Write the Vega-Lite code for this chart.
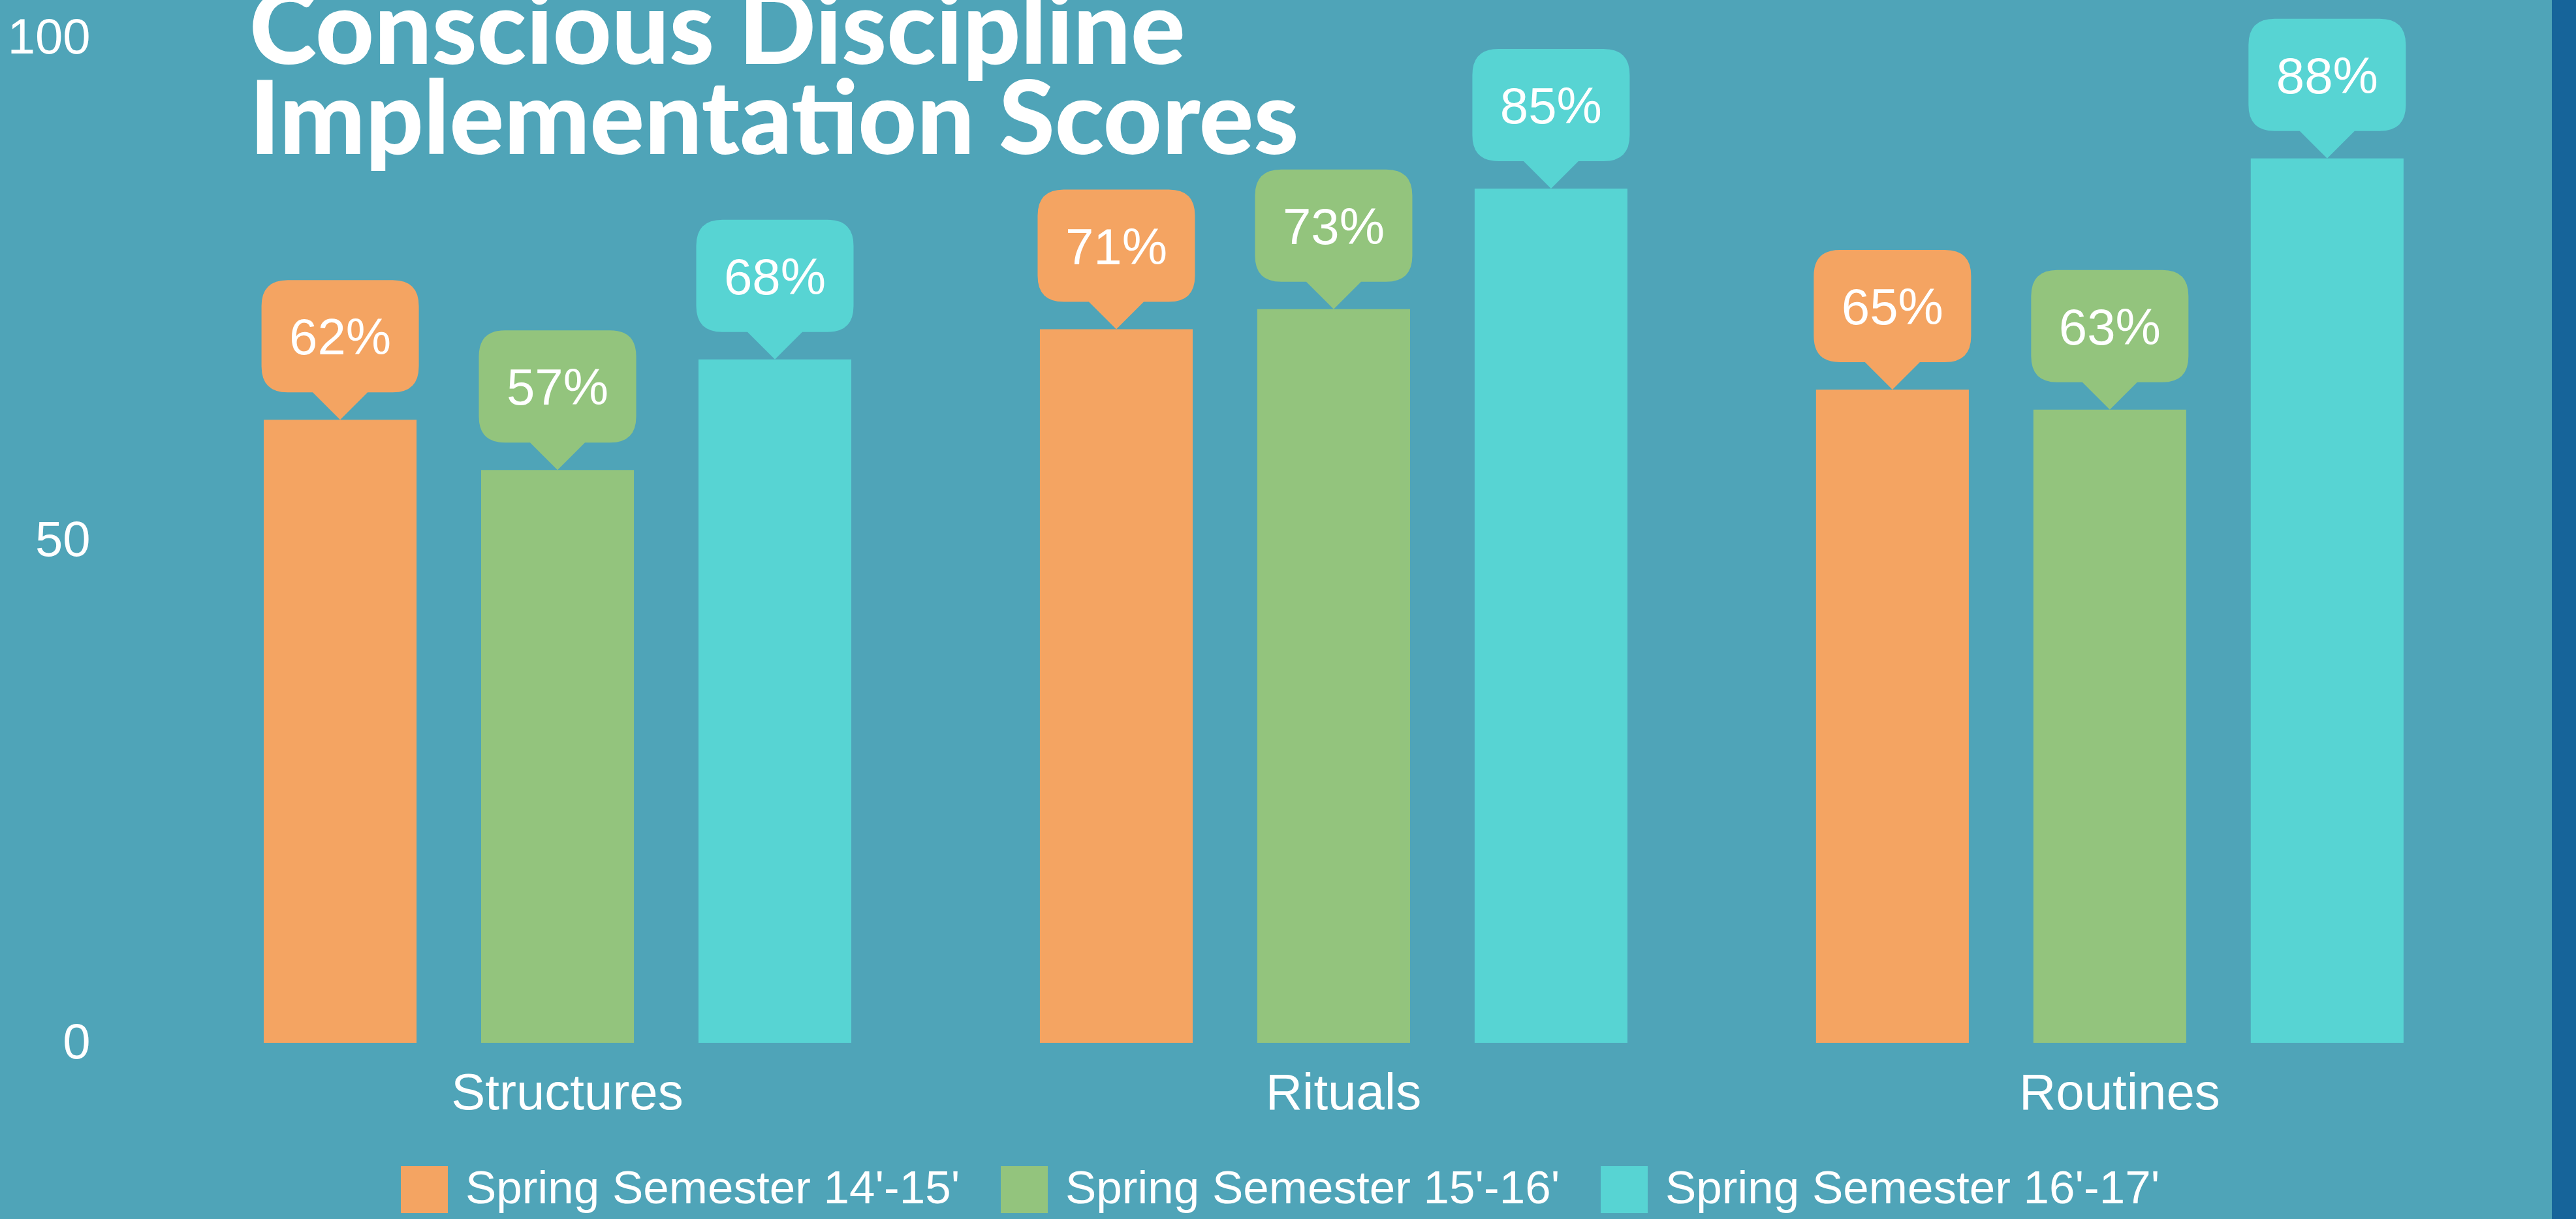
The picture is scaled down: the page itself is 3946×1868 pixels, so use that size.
{
  "$schema": "https://vega.github.io/schema/vega-lite/v6.json",
  "width": 3751,
  "height": 1540,
  "autosize": {"type": "none"},
  "padding": {"left": 184, "top": 58, "right": 11, "bottom": 270},
  "background": "#4FA4B8",
  "config": {"view": {"stroke": null}, "font": "Liberation Sans"},
  "title": {
    "text": ["Conscious Discipline", "Implementation Scores"],
    "anchor": "start",
    "frame": "group",
    "font": "Lato",
    "fontWeight": 900,
    "fontSize": 156,
    "lineHeight": 138,
    "color": "#FFFFFF",
    "baseline": "alphabetic",
    "offset": -392,
    "dx": 198,
    "limit": 0
  },
  "resolve": {"scale": {"x": "independent", "y": "independent"}},
  "layer": [
    {
      "data": {"values": [{"part": "edge"}]},
      "mark": {"type": "rect", "color": "#16649A"},
      "encoding": {
        "x": {"datum": 0.99307, "type": "quantitative", "scale": {"domain": [0, 1], "nice": false, "zero": false}, "axis": null},
        "x2": {"datum": 1.00293},
        "y": {"datum": 1.03766, "type": "quantitative", "scale": {"domain": [0, 1], "nice": false, "zero": false}, "axis": null},
        "y2": {"datum": -0.17532}
      }
    },
    {
      "data": {
        "values": [
          {"category": "Structures", "semester": "Spring Semester 14'-15'", "score": 62, "label": "62%"},
          {"category": "Structures", "semester": "Spring Semester 15'-16'", "score": 57, "label": "57%"},
          {"category": "Structures", "semester": "Spring Semester 16'-17'", "score": 68, "label": "68%"},
          {"category": "Rituals", "semester": "Spring Semester 14'-15'", "score": 71, "label": "71%"},
          {"category": "Rituals", "semester": "Spring Semester 15'-16'", "score": 73, "label": "73%"},
          {"category": "Rituals", "semester": "Spring Semester 16'-17'", "score": 85, "label": "85%"},
          {"category": "Routines", "semester": "Spring Semester 14'-15'", "score": 65, "label": "65%"},
          {"category": "Routines", "semester": "Spring Semester 15'-16'", "score": 63, "label": "63%"},
          {"category": "Routines", "semester": "Spring Semester 16'-17'", "score": 88, "label": "88%"}
        ]
      },
      "encoding": {
        "x": {
          "field": "category",
          "type": "nominal",
          "sort": ["Structures", "Rituals", "Routines"],
          "scale": {"paddingInner": 0.243, "paddingOuter": 0.199, "align": 0.465},
          "axis": {
            "title": null,
            "labelAngle": 0,
            "labelFontSize": 78,
            "labelColor": "#FFFFFF",
            "labelFont": "Liberation Sans",
            "labelPadding": 39,
            "labelOffset": 15,
            "labelLimit": 0,
            "ticks": false,
            "tickSize": 0,
            "domain": false,
            "grid": false
          }
        },
        "xOffset": {
          "field": "semester",
          "type": "nominal",
          "sort": ["Spring Semester 14'-15'", "Spring Semester 15'-16'", "Spring Semester 16'-17'"],
          "scale": {"paddingInner": 0.297, "paddingOuter": 0}
        },
        "y": {
          "field": "score",
          "type": "quantitative",
          "scale": {"domain": [0, 100], "nice": false},
          "axis": {
            "title": null,
            "values": [0, 50, 100],
            "labelFontSize": 76,
            "labelColor": "#FFFFFF",
            "labelFont": "Liberation Sans",
            "labelPadding": 46,
            "ticks": false,
            "tickSize": 0,
            "domain": false,
            "grid": false
          }
        }
      },
      "layer": [
        {
          "mark": {"type": "bar"},
          "encoding": {
            "color": {
              "field": "semester",
              "type": "nominal",
              "sort": ["Spring Semester 14'-15'", "Spring Semester 15'-16'", "Spring Semester 16'-17'"],
              "scale": {"range": ["#F4A462", "#93C47D", "#57D4D3"]},
              "legend": {
                "orient": "none",
                "legendX": 430,
                "legendY": 1729,
                "direction": "horizontal",
                "title": null,
                "symbolType": "square",
                "symbolSize": 5184,
                "symbolStrokeWidth": 0,
                "symbolOpacity": 1,
                "labelFontSize": 71,
                "labelColor": "#FFFFFF",
                "labelFont": "Liberation Sans",
                "labelOffset": 27,
                "labelLimit": 0,
                "columnPadding": 62,
                "padding": 0
              }
            }
          }
        },
        {
          "mark": {
            "type": "point",
            "shape": "M0,0 L-0.349,-0.349 L-0.668,-0.349 Q-1,-0.349 -1,-0.681 L-1,-1.444 Q-1,-1.776 -0.668,-1.776 L0.668,-1.776 Q1,-1.776 1,-1.444 L1,-0.681 Q1,-0.349 0.668,-0.349 L0.349,-0.349 Z",
            "size": 58081,
            "filled": true,
            "opacity": 1,
            "strokeWidth": 0
          },
          "encoding": {
            "color": {"field": "semester", "type": "nominal", "sort": ["Spring Semester 14'-15'", "Spring Semester 15'-16'", "Spring Semester 16'-17'"]}
          }
        },
        {
          "mark": {"type": "text", "dy": -100, "baseline": "alphabetic", "align": "center", "fontSize": 78, "font": "Liberation Sans", "color": "#FFFFFF"},
          "encoding": {"text": {"field": "label"}}
        },
        {
          "mark": {"type": "rule", "strokeDash": [24, 18], "strokeWidth": 6, "color": "#B3D8E2"},
          "encoding": {"y": {"datum": 0}}
        }
      ]
    }
  ]
}
